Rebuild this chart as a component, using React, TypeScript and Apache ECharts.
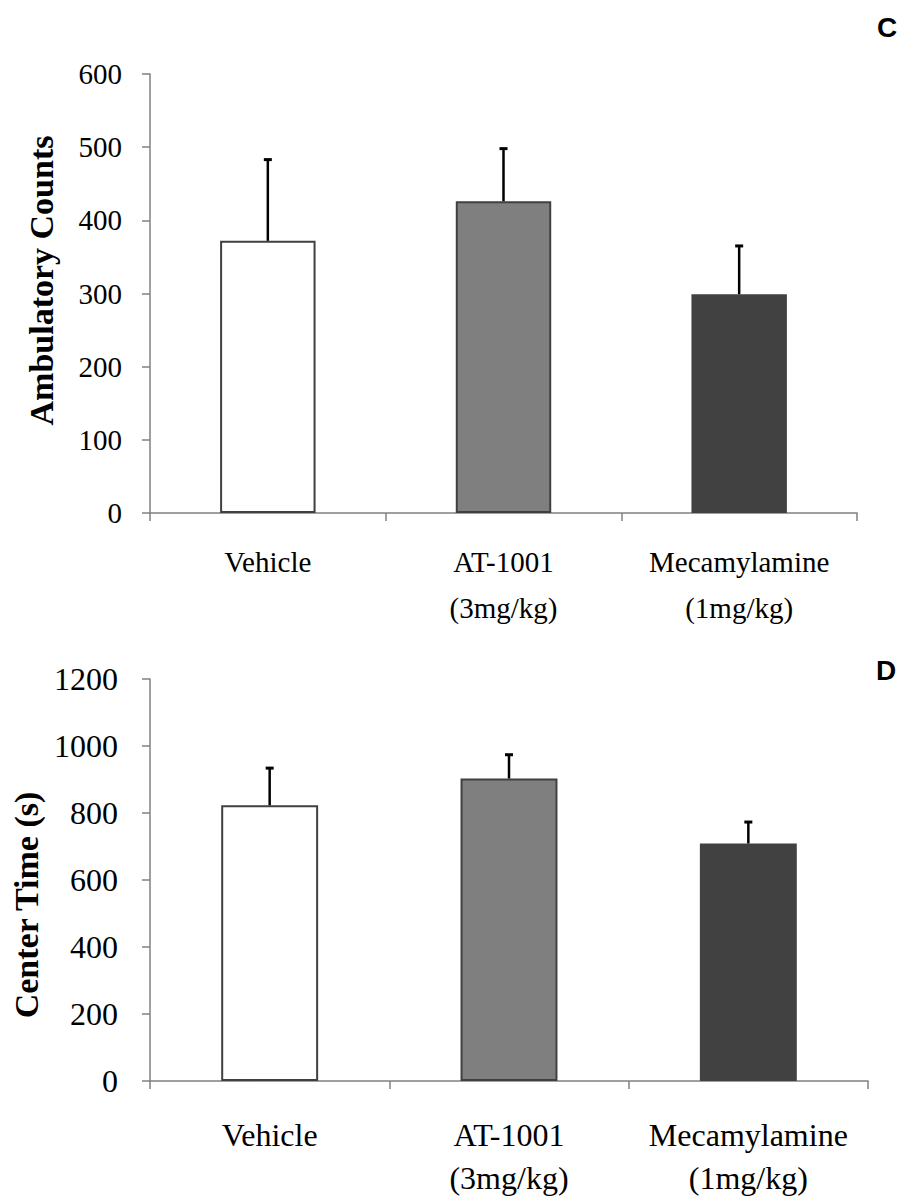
import React, { useEffect, useRef } from "react";
import * as echarts from "echarts";

const categories = ["Vehicle", "AT-1001\n(3mg/kg)", "Mecamylamine\n(1mg/kg)"];
const barColors = ["#ffffff", "#7f7f7f", "#414141"];
const borderColors = ["#404040", "#404040", "#414141"];

const ambulatoryMeans = [372, 426, 299];
const ambulatorySem = [111, 72, 66];
const ambulatoryTicks = { min: 0, max: 600, interval: 100 };

const centerMeans = [823, 903, 709];
const centerSem = [111, 71, 64];
const centerTicks = { min: 0, max: 1200, interval: 200 };

const serif = "'Liberation Serif', 'Times New Roman', serif";
const sans = "'Liberation Sans', Arial, sans-serif";

function errorRender(params: any, api: any) {
  const idx = api.value(0);
  const base = api.coord([idx, api.value(1)]);
  const top = api.coord([idx, api.value(2)]);
  return {
    type: "group",
    children: [
      {
        type: "line",
        shape: { x1: top[0], y1: top[1], x2: base[0], y2: base[1] },
        style: { stroke: "#000", lineWidth: 2.5 },
      },
      {
        type: "line",
        shape: { x1: top[0] - 4, y1: top[1], x2: top[0] + 4, y2: top[1] },
        style: { stroke: "#000", lineWidth: 3 },
      },
    ],
  };
}

export default function App() {
  const ref = useRef<HTMLDivElement>(null);
  useEffect(() => {
    if (!ref.current) return;
    const chart = echarts.init(ref.current, null, { renderer: "svg" });
    const axisLineStyle = { color: "#808080", width: 1.5 };
    const makeX = (gridIndex: number, fontSize: number, lineHeight: number, margin: number) => ({
      type: "category",
      gridIndex,
      data: categories,
      axisLine: { show: true, lineStyle: axisLineStyle },
      axisTick: { show: true, length: 8, lineStyle: axisLineStyle, interval: 0 },
      axisLabel: {
        color: "#000",
        fontFamily: serif,
        fontSize,
        lineHeight,
        margin,
        interval: 0,
      },
      splitLine: { show: false },
    });
    const makeY = (
      gridIndex: number,
      ticks: { min: number; max: number; interval: number },
      name: string,
      fontSize: number,
      margin: number,
      nameGap: number,
      namePadding: number[]
    ) => ({
      type: "value",
      gridIndex,
      min: ticks.min,
      max: ticks.max,
      interval: ticks.interval,
      name,
      nameLocation: "middle",
      nameRotate: 90,
      nameGap,
      nameTextStyle: {
        color: "#000",
        fontFamily: serif,
        fontWeight: "bold",
        fontSize: 34,
        padding: namePadding,
      },
      axisLine: { show: true, lineStyle: axisLineStyle },
      axisTick: { show: true, length: 8, lineStyle: axisLineStyle },
      axisLabel: {
        color: "#000",
        fontFamily: serif,
        fontSize,
        margin,
        formatter: (v: number) => String(v),
      },
      splitLine: { show: false },
    });
    const barData = (vals: number[]) =>
      vals.map((v, i) => ({
        value: v,
        itemStyle: { color: barColors[i], borderColor: borderColors[i], borderWidth: 2 },
      }));
    const errData = (vals: number[], sem: number[]) => vals.map((v, i) => [i, v, v + sem[i]]);

    chart.setOption({
      animation: false,
      backgroundColor: "#ffffff",
      grid: [
        { left: 150, top: 74, width: 707, height: 439 },
        { left: 150, top: 679, width: 718, height: 407 },
      ],
      xAxis: [makeX(0, 29, 46, 26), makeX(1, 32, 43, 32)],
      yAxis: [
        makeY(0, ambulatoryTicks, "Ambulatory Counts", 29, 28, 92, [0, 0, 0, 26]),
        makeY(1, centerTicks, "Center Time (s)", 32, 32, 104, [0, 50, 0, 0]),
      ],
      graphic: [
        { type: "text", left: 877, top: 13, style: { text: "C", fontFamily: sans, fontWeight: "bold", fontSize: 28, fill: "#000" } },
        { type: "text", left: 876, top: 656, style: { text: "D", fontFamily: sans, fontWeight: "bold", fontSize: 28, fill: "#000" } },
      ],
      series: [
        { type: "bar", xAxisIndex: 0, yAxisIndex: 0, barWidth: "40.5%", data: barData(ambulatoryMeans), z: 2 },
        { type: "custom", xAxisIndex: 0, yAxisIndex: 0, renderItem: errorRender, data: errData(ambulatoryMeans, ambulatorySem), z: 3 },
        { type: "bar", xAxisIndex: 1, yAxisIndex: 1, barWidth: "40.5%", data: barData(centerMeans), z: 2 },
        { type: "custom", xAxisIndex: 1, yAxisIndex: 1, renderItem: errorRender, data: errData(centerMeans, centerSem), z: 3 },
      ],
    });
    return () => chart.dispose();
  }, []);
  return (
    <div
      ref={ref}
      style={{ position: "absolute", left: 0, top: 0, width: 900, height: 1199, background: "#fff" }}
    />
  );
}
